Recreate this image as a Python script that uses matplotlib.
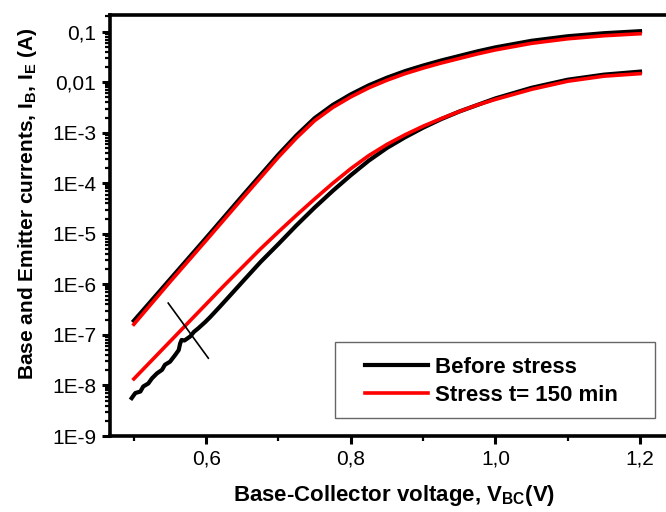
import numpy as np
import matplotlib
matplotlib.use('Agg')
import matplotlib.pyplot as plt
from matplotlib.patches import Rectangle
from matplotlib.ticker import FixedLocator, LogLocator, NullFormatter

plt.rcParams['font.family'] = ['Liberation Sans', 'DejaVu Sans']
plt.rcParams['mathtext.fontset'] = 'custom'
plt.rcParams['mathtext.rm'] = 'Liberation Sans'
plt.rcParams['mathtext.bf'] = 'Liberation Sans:bold'

# values, currents stored as log10(I / A)
# emitter current (upper pair)
ie_v = [0.50, 0.55, 0.60, 0.65, 0.675, 0.70, 0.725, 0.75, 0.775, 0.80, 0.825, 0.85, 0.875,
        0.90, 0.925, 0.95, 0.975, 1.00, 1.05, 1.10, 1.15, 1.20]
ie_before_log = [-6.72, -5.90, -5.08, -4.25, -3.84, -3.43, -3.05, -2.71, -2.45, -2.24, -2.06, -1.91, -1.78,
                 -1.67, -1.57, -1.48, -1.39, -1.31, -1.18, -1.09, -1.03, -0.99]
ie_stress_log = [-6.79, -5.95, -5.13, -4.30, -3.89, -3.48, -3.10, -2.76, -2.50, -2.29, -2.11, -1.96, -1.83,
                 -1.72, -1.62, -1.53, -1.44, -1.36, -1.23, -1.14, -1.08, -1.04]

# base current (lower pair)
ib_before_v = [0.497, 0.502, 0.509, 0.513, 0.520, 0.525, 0.532, 0.539, 0.543, 0.550, 0.557,
               0.562, 0.564, 0.566, 0.570, 0.574, 0.578, 0.583, 0.589, 0.599, 0.606, 0.619,
               0.633, 0.652, 0.675, 0.70, 0.725, 0.75, 0.775, 0.80, 0.825, 0.85, 0.875,
               0.90, 0.925, 0.95, 0.975, 1.00, 1.05, 1.10, 1.15, 1.20]
ib_before_log = [-8.25, -8.15, -8.12, -8.02, -7.96, -7.86, -7.76, -7.69, -7.59, -7.53, -7.40,
                 -7.30, -7.17, -7.10, -7.11, -7.07, -7.03, -6.94, -6.87, -6.74, -6.64, -6.44,
                 -6.22, -5.92, -5.56, -5.20, -4.83, -4.48, -4.15, -3.84, -3.55, -3.30, -3.09,
                 -2.90, -2.73, -2.58, -2.45, -2.32, -2.11, -1.95, -1.85, -1.79]
ib_stress_v = [0.50, 0.525, 0.55, 0.575, 0.60, 0.625, 0.65, 0.675, 0.70, 0.725, 0.75, 0.775,
               0.80, 0.825, 0.85, 0.875, 0.90, 0.925, 0.95, 0.975, 1.00, 1.05, 1.10, 1.15, 1.20]
ib_stress_log = [-7.87, -7.50, -7.13, -6.76, -6.39, -6.02, -5.66, -5.30, -4.96, -4.63, -4.31, -4.00,
                 -3.71, -3.45, -3.23, -3.04, -2.87, -2.72, -2.58, -2.45, -2.34, -2.14, -1.98, -1.88, -1.83]

# short crossing mark
mark_v = [0.5475, 0.603]
mark_log = [-6.37, -7.46]

y_ticks = [1e-9, 1e-8, 1e-7, 1e-6, 1e-5, 1e-4, 1e-3, 1e-2, 1e-1]
y_labels = ['1E-9', '1E-8', '1E-7', '1E-6', '1E-5', '1E-4', '1E-3', '0,01', '0,1']
x_ticks = [0.6, 0.8, 1.0, 1.2]
x_labels = ['0,6', '0,8', '1,0', '1,2']
x_minor = [0.5, 0.7, 0.9, 1.1]

fig = plt.figure(figsize=(6.66, 5.12), dpi=100)
ax = fig.add_axes([110 / 666, 76 / 512, 563 / 666, 421 / 512])

ax.plot(ie_v, 10 ** np.array(ie_before_log), color='black', lw=3.0, label='Before stress')
ax.plot(ib_before_v, 10 ** np.array(ib_before_log), color='black', lw=3.0)
ax.plot(ie_v, 10 ** np.array(ie_stress_log), color='#ff0000', lw=2.6, label='Stress t= 150 min')
ax.plot(ib_stress_v, 10 ** np.array(ib_stress_log), color='#ff0000', lw=2.6)
ax.plot(mark_v, 10 ** np.array(mark_log), color='black', lw=1.2)

ax.set_yscale('log')
ax.set_xlim(0.467, 1.2456)
ax.set_ylim(1e-9, 0.214)

ax.yaxis.set_major_locator(FixedLocator(y_ticks))
ax.set_yticklabels(y_labels)
ax.yaxis.set_minor_locator(LogLocator(base=10, subs=np.arange(2, 10)))
ax.yaxis.set_minor_formatter(NullFormatter())
ax.set_xticks(x_ticks)
ax.set_xticklabels(x_labels)
ax.set_xticks(x_minor, minor=True)

ax.tick_params(which='major', direction='out', length=6, width=2.2, labelsize=15, pad=4)
ax.tick_params(which='minor', direction='out', length=3.5, width=1.6)
for s in ax.spines.values():
    s.set_linewidth(2.6)

ax.set_xlabel(r'Base-Collector voltage, V$_\mathbf{BC}$(V)', fontsize=16, fontweight='bold')
ax.xaxis.set_label_coords(0.504, -0.112)
ax.set_ylabel(r'Base and Emitter currents, I$_\mathbf{B}$, I$_\mathbf{E}$ (A)', fontsize=15,
              fontweight='bold')
ax.yaxis.set_label_coords(-0.126, 0.551)

leg = ax.legend(loc='upper left', bbox_to_anchor=(365 / 666, 155 / 512),
                bbox_transform=fig.transFigure, prop={'weight': 'bold', 'size': 16},
                frameon=False, handlelength=2.84, handletextpad=0.32,
                borderpad=0, labelspacing=0.3, borderaxespad=0)
fig.patches.append(Rectangle((335 / 666, 94 / 512), 320 / 666, 76 / 512, transform=fig.transFigure,
                             fill=False, edgecolor='#666666', linewidth=1.0))

fig.savefig('out.png', dpi=100)
